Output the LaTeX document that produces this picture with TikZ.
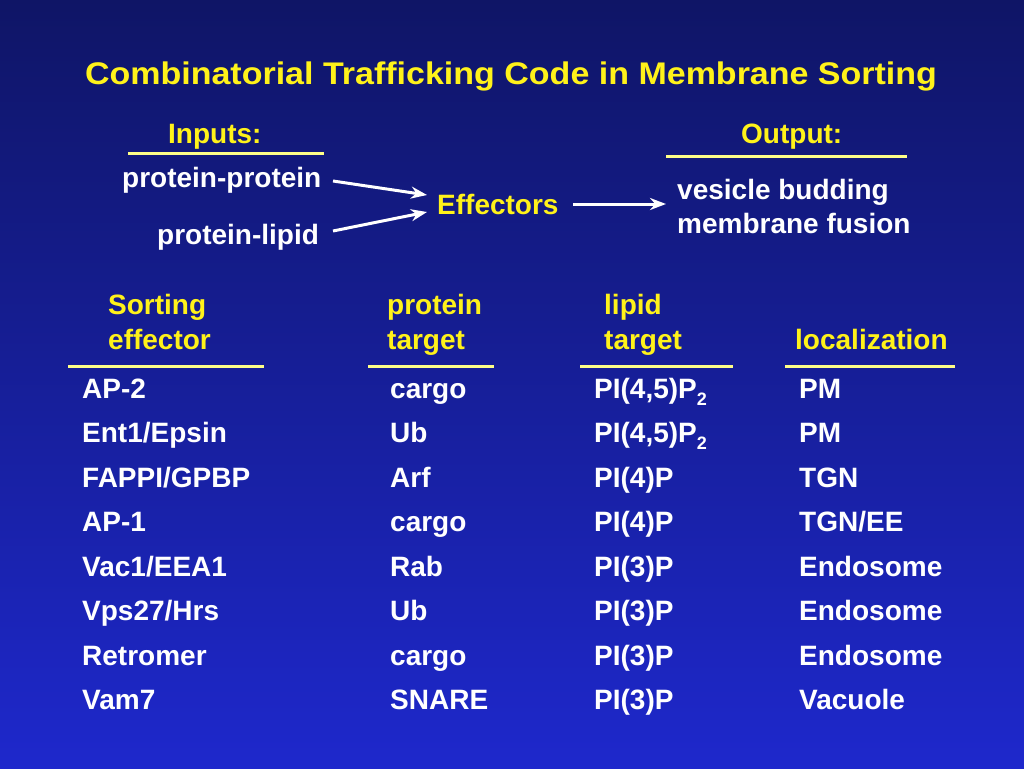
\documentclass[tikz,border=0pt]{standalone}
\usepackage{fontspec}
\setmainfont{Liberation Sans}
\usetikzlibrary{arrows.meta}
\definecolor{bgtop}{HTML}{0F1566}
\definecolor{bgbot}{HTML}{1E28CC}
\definecolor{ylw}{HTML}{FFF21A}
\definecolor{rule}{HTML}{FFFF88}
\newcommand{\bodyfont}{\fontsize{28}{30}\selectfont\bfseries}
\newcommand{\titlefont}{\fontsize{34}{38}\selectfont\bfseries}
\newcommand{\subtwo}{\raisebox{-0.25em}{\fontsize{18}{18}\selectfont 2}}
\tikzset{
  txt/.style={font=\bodyfont, text=white, anchor=base west, inner sep=0pt},
  hdr/.style={font=\bodyfont, text=ylw, anchor=base west, inner sep=0pt},
  uline/.style={draw=rule, line width=3pt},
  arr/.style={draw=white, line width=3pt, -{Stealth[length=16pt,width=12pt]}}
}
\begin{document}
\begin{tikzpicture}[x=1pt,y=-1pt]
\useasboundingbox (0,0) rectangle (1024,768);
\shade[top color=bgtop, bottom color=bgbot] (0,0) rectangle (1024,768);
% title
\node[font=\titlefont, text=ylw, anchor=base, inner sep=0pt, yscale=0.92] (title) at (511,84) {Combinatorial Trafficking Code in Membrane Sorting};
% inputs/outputs
\node[hdr] (inputs) at (168,143) {Inputs:};
\coordinate (il1) at (128,153); \coordinate (il2) at (324,153);
\draw[uline] (il1) -- (il2);
\node[hdr] (output) at (741,143) {Output:};
\coordinate (ol1) at (666,156); \coordinate (ol2) at (907,156);
\draw[uline] (ol1) -- (ol2);
\node[txt] (pp) at (122,187) {protein-protein};
\node[txt] (pl) at (157,244) {protein-lipid};
\node[hdr] (eff) at (437,214) {Effectors};
\node[txt] (out1) at (677,199) {vesicle budding};
\node[txt] (out2) at (677,233) {membrane fusion};
\coordinate (a1s) at (333,181); \coordinate (a1e) at (427,195);
\coordinate (a2s) at (333,231); \coordinate (a2e) at (427,212);
\draw[arr] (a1s) -- (a1e);
\draw[arr] (a2s) -- (a2e);
\coordinate (a3s) at (573,204); \coordinate (a3e) at (666,204);
\draw[arr] (a3s) -- (a3e);
% table headers
\node[hdr] (h1a) at (108,314) {Sorting};
\node[hdr] (h1b) at (108,349) {effector};
\node[hdr] (h2a) at (387,314) {protein};
\node[hdr] (h2b) at (387,349) {target};
\node[hdr] (h3a) at (604,314) {lipid};
\node[hdr] (h3b) at (604,349) {target};
\node[hdr] (h4b) at (795,349) {localization};
\draw[uline] (68,366) -- (264,366);
\draw[uline] (368,366) -- (494,366);
\draw[uline] (580,366) -- (733,366);
\draw[uline] (785,366) -- (955,366);
% rows
\node[txt] (r0a) at (82,398) {AP-2};
\node[txt] (r0b) at (390,398) {cargo};
\node[txt] (r0c) at (594,398) {PI(4,5)P\subtwo};
\node[txt] (r0d) at (799,398) {PM};
\node[txt] (r1a) at (82,442.5) {Ent1/Epsin};
\node[txt] (r1b) at (390,442.5) {Ub};
\node[txt] (r1c) at (594,442.5) {PI(4,5)P\subtwo};
\node[txt] (r1d) at (799,442.5) {PM};
\node[txt] (r2a) at (82,487) {FAPPI/GPBP};
\node[txt] (r2b) at (390,487) {Arf};
\node[txt] (r2c) at (594,487) {PI(4)P};
\node[txt] (r2d) at (799,487) {TGN};
\node[txt] (r3a) at (82,531.5) {AP-1};
\node[txt] (r3b) at (390,531.5) {cargo};
\node[txt] (r3c) at (594,531.5) {PI(4)P};
\node[txt] (r3d) at (799,531.5) {TGN/EE};
\node[txt] (r4a) at (82,576) {Vac1/EEA1};
\node[txt] (r4b) at (390,576) {Rab};
\node[txt] (r4c) at (594,576) {PI(3)P};
\node[txt] (r4d) at (799,576) {Endosome};
\node[txt] (r5a) at (82,620.5) {Vps27/Hrs};
\node[txt] (r5b) at (390,620.5) {Ub};
\node[txt] (r5c) at (594,620.5) {PI(3)P};
\node[txt] (r5d) at (799,620.5) {Endosome};
\node[txt] (r6a) at (82,665) {Retromer};
\node[txt] (r6b) at (390,665) {cargo};
\node[txt] (r6c) at (594,665) {PI(3)P};
\node[txt] (r6d) at (799,665) {Endosome};
\node[txt] (r7a) at (82,709.5) {Vam7};
\node[txt] (r7b) at (390,709.5) {SNARE};
\node[txt] (r7c) at (594,709.5) {PI(3)P};
\node[txt] (r7d) at (799,709.5) {Vacuole};
\end{tikzpicture}
\end{document}
